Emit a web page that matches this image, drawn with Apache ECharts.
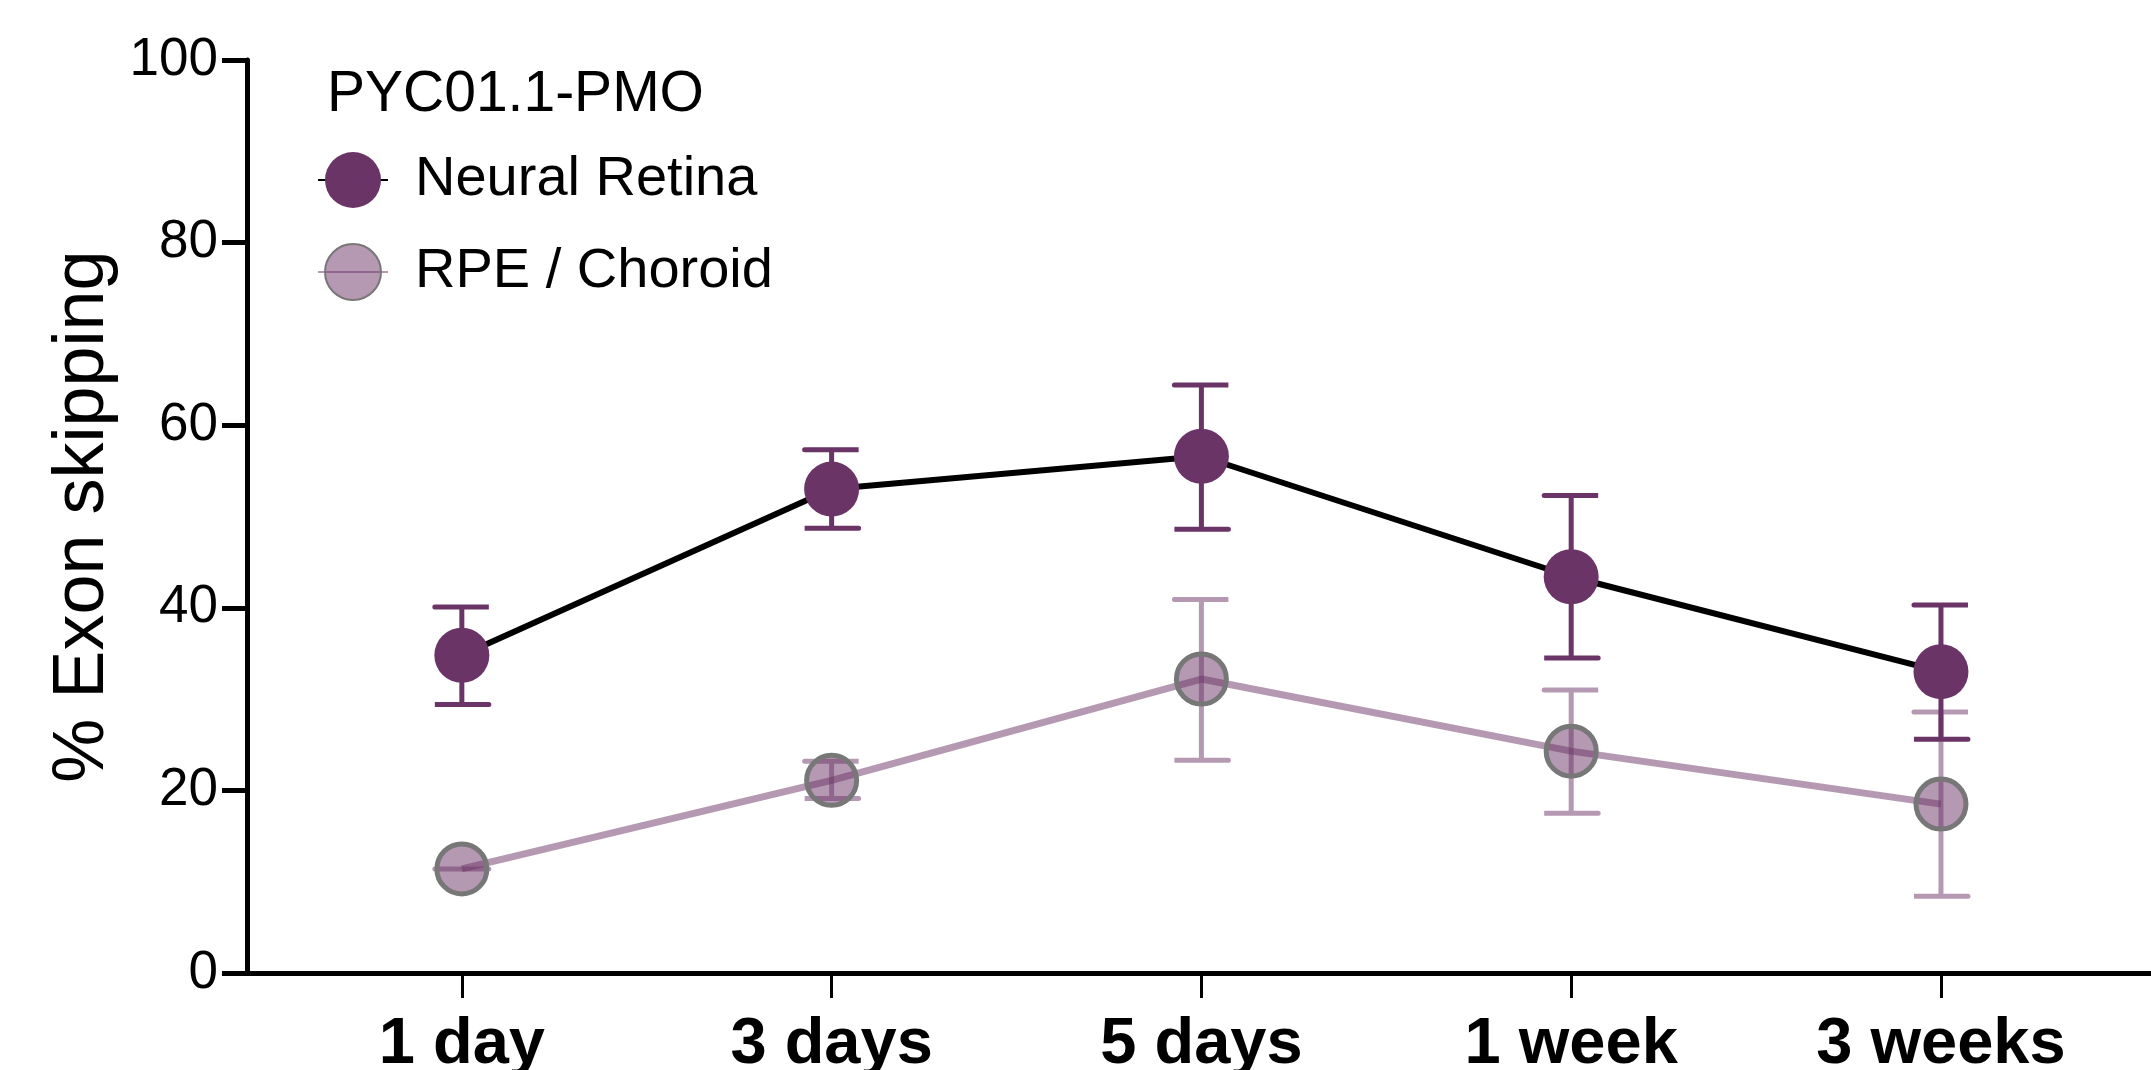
<!DOCTYPE html>
<html>
<head>
<meta charset="utf-8">
<script src="https://cdn.jsdelivr.net/npm/echarts@6/dist/echarts.min.js"></script>
<style>
html,body{margin:0;padding:0;background:#fff;}
#chart{width:2151px;height:1070px;}
</style>
</head>
<body>
<div id="chart"></div>
<script>
var categories = ['1 day', '3 days', '5 days', '1 week', '3 weeks'];
var neuralMean = [34.8, 53.0, 56.6, 43.4, 33.0];
var neuralHigh = [40.1, 57.3, 64.4, 52.3, 40.3];
var neuralLow  = [29.4, 48.7, 48.6, 34.5, 25.6];
var rpeMean = [11.4, 21.1, 32.2, 24.3, 18.5];
var rpeHigh = [11.4, 23.2, 40.9, 31.0, 28.6];
var rpeLow  = [11.4, 19.1, 23.3, 17.5, 8.4];
var yTicks = [0, 20, 40, 60, 80, 100];
var legendTitle = 'PYC01.1-PMO';
var seriesNames = ['Neural Retina', 'RPE / Choroid'];

var NEURAL = '#6a3467';
var RPE_LINE = 'rgba(107,52,103,0.5)';
var RPE_FILL = 'rgba(107,52,103,0.5)';
var FONT = 'Liberation Sans, Arial, Helvetica, sans-serif';

var idx = categories.map(function (c, i) { return i; });

function pts(arr) { return arr.map(function (v, i) { return [i, v]; }); }
function errData(lo, hi) { return lo.map(function (v, i) { return [i, lo[i], hi[i]]; }); }

function errRender(color) {
  return function (params, api) {
    var x = api.value(0);
    var lo = api.coord([x, api.value(1)]);
    var hi = api.coord([x, api.value(2)]);
    var hw = 27;
    return {
      type: 'polyline',
      shape: { points: [[hi[0] - hw, hi[1]], [hi[0] + hw, hi[1]], [hi[0], hi[1]], [lo[0], lo[1]], [lo[0] - hw, lo[1]], [lo[0] + hw, lo[1]]] },
      style: { stroke: color, lineWidth: 5, fill: null, lineCap: 'round', lineJoin: 'miter' }
    };
  };
}

var chart = echarts.init(document.getElementById('chart'), null, { renderer: 'canvas' });
chart.setOption({
  animation: false,
  backgroundColor: '#fff',
  title: {
    text: legendTitle,
    left: 322, top: 62,
    textStyle: { fontFamily: FONT, fontSize: 57, fontWeight: 'normal', color: '#000' }
  },
  legend: {
    left: 312, top: 147,
    orient: 'vertical',
    itemWidth: 70, itemHeight: 70, itemGap: 35,
    textStyle: { fontFamily: FONT, fontSize: 56, color: '#000', padding: [0, 0, 0, 22] },
    data: seriesNames
  },
  grid: { left: 247, right: 0, top: 60, bottom: 97, containLabel: false, outerBoundsMode: 'none' },
  xAxis: {
    type: 'value',
    min: -0.581, max: 4.568,
    axisLine: { show: true, onZero: false, lineStyle: { color: '#000', width: 5 } },
    axisTick: { show: true, customValues: idx, length: 25, lineStyle: { color: '#000', width: 3 } },
    axisLabel: {
      customValues: idx,
      formatter: function (v) { return categories[Math.round(v)]; },
      fontFamily: FONT, fontSize: 65, fontWeight: 'bold', color: '#000', margin: 40
    },
    splitLine: { show: false }
  },
  yAxis: {
    type: 'value',
    min: yTicks[0], max: yTicks[yTicks.length - 1], interval: 20,
    name: '% Exon skipping',
    nameLocation: 'middle',
    nameGap: 126,
    nameTextStyle: { fontFamily: FONT, fontSize: 72, color: '#000' },
    axisLine: { show: true, onZero: false, lineStyle: { color: '#000', width: 5 } },
    axisTick: { show: true, length: 25, lineStyle: { color: '#000', width: 5 } },
    axisLabel: { fontFamily: FONT, fontSize: 53, color: '#000', margin: 29 },
    splitLine: { show: false }
  },
  series: [
    {
      type: 'custom', name: 'rpeErr', silent: true, z: 1,
      renderItem: errRender(RPE_LINE),
      data: errData(rpeLow, rpeHigh),
      encode: { x: 0, y: [1, 2] }
    },
    {
      type: 'custom', name: 'neuralErr', silent: true, z: 3,
      renderItem: errRender(NEURAL),
      data: errData(neuralLow, neuralHigh),
      encode: { x: 0, y: [1, 2] }
    },
    {
      type: 'line', name: seriesNames[1], z: 2,
      data: pts(rpeMean),
      symbol: 'circle', symbolSize: 50,
      lineStyle: { color: RPE_LINE, width: 7 },
      itemStyle: { color: RPE_FILL, borderColor: '#777777', borderWidth: 5, opacity: 1 }
    },
    {
      type: 'line', name: seriesNames[0], z: 4,
      data: pts(neuralMean),
      symbol: 'circle', symbolSize: 55,
      lineStyle: { color: '#000', width: 6 },
      itemStyle: { color: NEURAL, borderWidth: 0 }
    }
  ]
});
</script>
</body>
</html>
